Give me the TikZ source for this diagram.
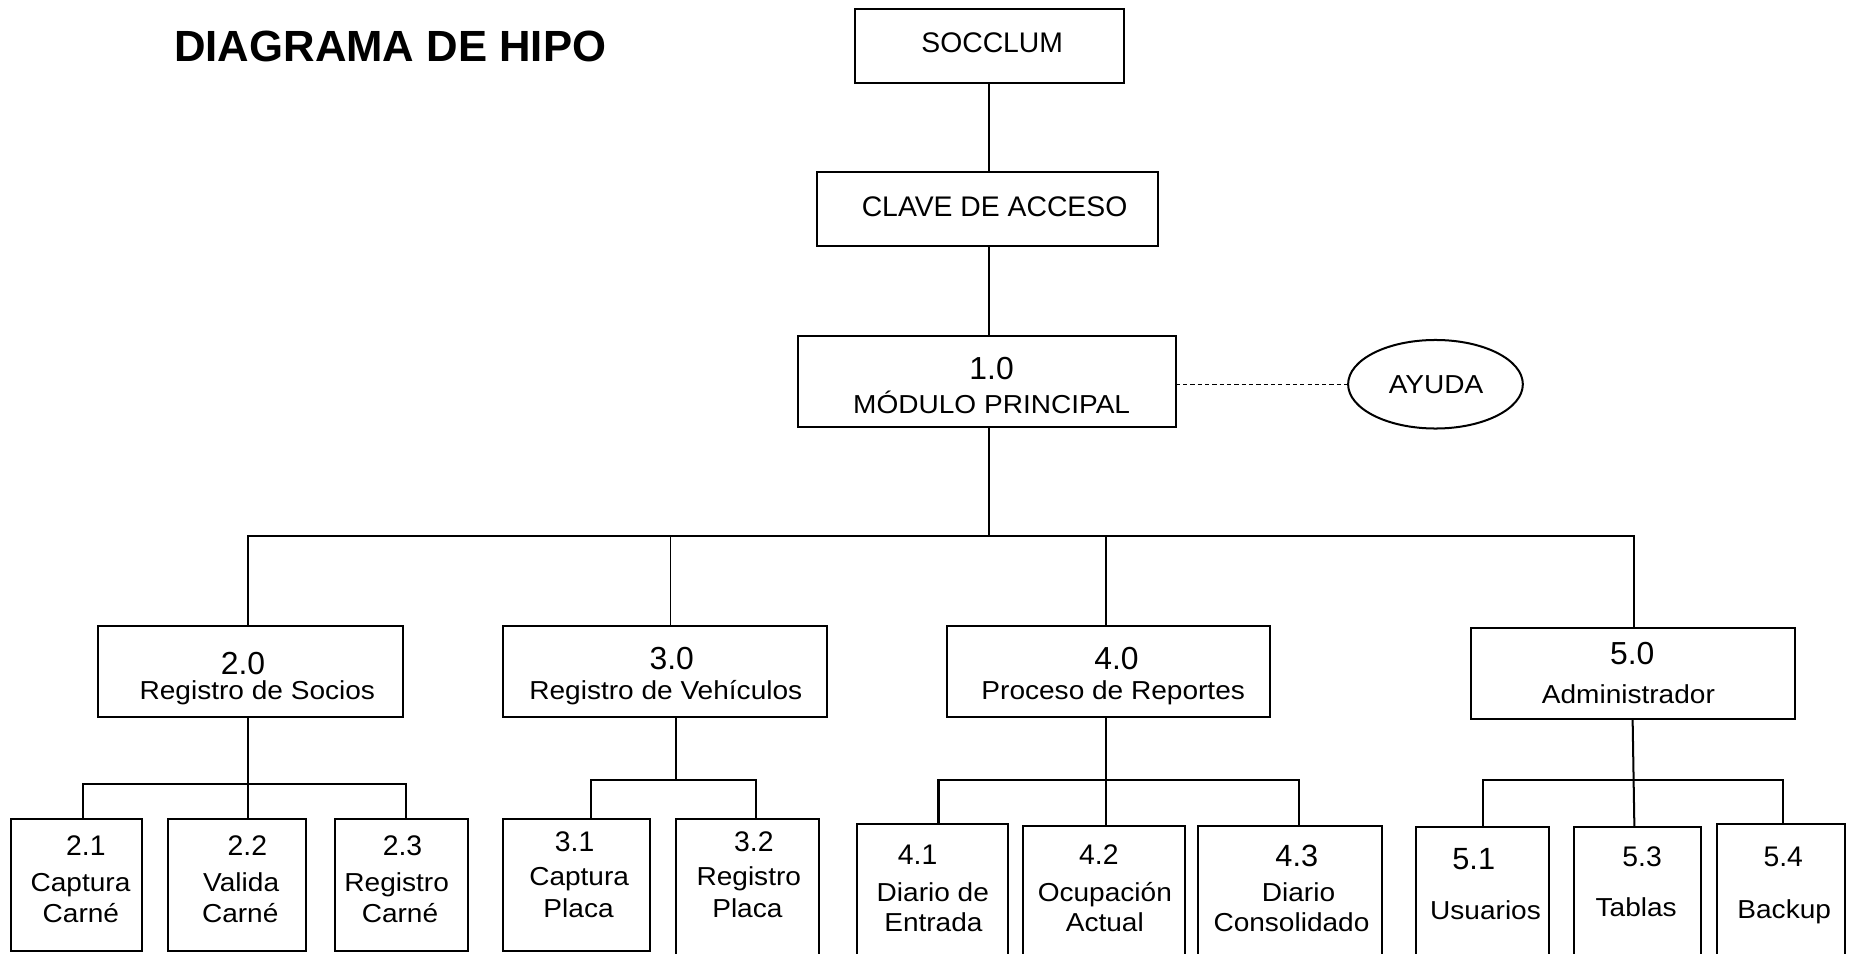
\documentclass[tikz,border=0pt]{standalone}
\usepackage{fontspec}
\setmainfont{Liberation Sans}
\newfontfamily\lblfont[FakeStretch=1.08]{Liberation Sans}
\usetikzlibrary{shapes.geometric}
\newcommand{\mybox}[5]{\node[box,minimum width={(#4-#2)*0.5pt},minimum height={(#5-#3)*0.5pt}] (#1) at ({(#2+#4)/2},{(#3+#5)/2}) {};}
\newcommand{\mytxt}[5]{\node[#1,anchor=base] (#2) at (#3,#4) {#5};}
\begin{document}
\begin{tikzpicture}[x=0.5pt,y=-0.5pt,
  box/.style={draw,line width=0.85pt,inner sep=0pt,outer sep=0pt},
  conn/.style={line width=0.85pt},
  thinline/.style={line width=0.45pt},
  dashline/.style={line width=0.6pt,dash pattern=on 1.8pt off 1.3pt},
  ttl/.style={inner sep=0pt,font=\fontsize{18.5}{22}\selectfont\bfseries},
  top/.style={inner sep=0pt,font=\fontsize{12}{14}\selectfont},
  numl/.style={inner sep=0pt,font=\fontsize{13.5}{16}\selectfont},
  nums/.style={inner sep=0pt,font=\fontsize{12}{14}\selectfont},
  numm/.style={inner sep=0pt,font=\fontsize{13}{15}\selectfont},
  lbl/.style={inner sep=0pt,font=\lblfont\fontsize{11}{13}\selectfont}]
\useasboundingbox (0,0) rectangle (1568,808);
\fill[white] (0,0) rectangle (1568,808);
\clip (0,0) rectangle (1568,808);

% top boxes
\mybox{soc}{724}{8}{952}{70}
\mybox{clave}{692}{146}{981}{208}
\mybox{mod}{676}{284.5}{996}{361.5}
\node[box,ellipse,minimum width=74pt,minimum height=37.5pt] (ayuda) at (1216,325.5) {};

% level 2
\mybox{b2}{83}{530}{341.4}{607}
\mybox{b3}{426}{530}{700.4}{607}
\mybox{b4}{802}{530}{1076.2}{607}
\mybox{b5}{1245.8}{532.3}{1520.5}{609.1}

% level 3
\mybox{s21}{9}{693.5}{120}{806}
\mybox{s22}{142}{693.5}{259}{806}
\mybox{s23}{283.5}{693.5}{396.3}{806}
\mybox{s31}{426}{693.5}{550.7}{806}
\mybox{s32}{572.3}{693.5}{693.8}{830}
\mybox{s41}{726}{698}{854}{830}
\mybox{s42}{866.5}{699.5}{1003.5}{830}
\mybox{s43}{1015}{699.5}{1170.5}{830}
\mybox{s51}{1199.5}{700.8}{1312.4}{830}
\mybox{s53}{1333.3}{700.8}{1440.9}{830}
\mybox{s54}{1454.7}{698}{1562.9}{830}

% coordinates
\coordinate (v0) at (838,0);
\coordinate (j1) at (838,454);
\coordinate (j2) at (210,454);
\coordinate (j3) at (568,454);
\coordinate (j4) at (937,454);
\coordinate (j5) at (1384,454);
\coordinate (k2) at (210,664);
\coordinate (k21) at (70,664);
\coordinate (k23) at (344,664);
\coordinate (k3) at (573,661);
\coordinate (k31) at (501,661);
\coordinate (k32) at (640,661);
\coordinate (k4) at (937,661);
\coordinate (k41) at (795,661);
\coordinate (k43) at (1100.5,661);
\coordinate (k5a) at (1383,0);
\coordinate (k5b) at (1384.5,0);
\coordinate (k51) at (1256,661);
\coordinate (k54) at (1510,661);

% connectors
\draw[conn] (soc.south -| v0) -- (clave.north -| v0);
\draw[conn] (clave.south -| v0) -- (mod.north -| v0);
\draw[conn] (mod.south -| v0) -- (j1);
\draw[dashline] (mod.east |- ayuda.west) -- (ayuda.west);
\draw[conn] (b2.north -| j2) -- (j2) -- (j5) -- (b5.north -| j5);
\draw[thinline] (j3) -- (b3.north -| j3);
\draw[conn] (j4) -- (b4.north -| j4);

\draw[conn] (b2.south -| k2) -- (s22.north -| k2);
\draw[conn] (s21.north -| k21) -- (k21) -- (k23) -- (s23.north -| k23);

\draw[conn] (b3.south -| k3) -- (k3);
\draw[conn] (s31.north -| k31) -- (k31) -- (k32) -- (s32.north -| k32);

\draw[conn] (b4.south -| k4) -- (s42.north -| k4);
\draw[conn] (s41.north -| k41) -- (k41) -- (k43) -- (s43.north -| k43);

\draw[conn] (b5.south -| k5a) -- (s53.north -| k5b);
\draw[conn] (s51.north -| k51) -- (k51) -- (k54) -- (s54.north -| k54);

% texts
\mytxt{ttl}{title}{330.6}{52.2}{DIAGRAMA DE HIPO}
\mytxt{top}{tsoc}{840.5}{44.6}{SOCCLUM}
\mytxt{top}{tclave}{842.5}{183.6}{CLAVE DE ACCESO}
\mytxt{numl}{tmodn}{840}{321.3}{1.0}
\mytxt{lbl}{tmodl}{840}{350}{MÓDULO PRINCIPAL}
\mytxt{lbl}{tayuda}{1216.5}{333}{AYUDA}

\mytxt{numl}{tb2n}{205.8}{571}{2.0}
\mytxt{lbl}{tb2l}{218}{592.4}{Registro de Socios}
\mytxt{numl}{tb3n}{569}{567}{3.0}
\mytxt{lbl}{tb3l}{564}{592.4}{Registro de Vehículos}
\mytxt{numl}{tb4n}{945.8}{567}{4.0}
\mytxt{lbl}{tb4l}{943}{592.4}{Proceso de Reportes}
\mytxt{numl}{tb5n}{1382.7}{562.5}{5.0}
\mytxt{lbl}{tb5l}{1379.4}{595.8}{Administrador}

\mytxt{nums}{t21n}{72.7}{724.3}{2.1}
\mytxt{lbl}{t21a}{68.2}{755}{Captura}
\mytxt{lbl}{t21b}{68.5}{781.5}{Carné}
\mytxt{nums}{t22n}{209.6}{724.3}{2.2}
\mytxt{lbl}{t22a}{204.3}{755}{Valida}
\mytxt{lbl}{t22b}{203.5}{781.5}{Carné}
\mytxt{nums}{t23n}{341}{724.3}{2.3}
\mytxt{lbl}{t23a}{336}{755}{Registro}
\mytxt{lbl}{t23b}{338.8}{781.5}{Carné}

\mytxt{nums}{t31n}{486.8}{721}{3.1}
\mytxt{lbl}{t31a}{490.6}{750.5}{Captura}
\mytxt{lbl}{t31b}{490.1}{777.1}{Placa}
\mytxt{nums}{t32n}{638.6}{721}{3.2}
\mytxt{lbl}{t32a}{634.3}{750.5}{Registro}
\mytxt{lbl}{t32b}{633.1}{777.1}{Placa}

\mytxt{nums}{t41n}{777.3}{732.7}{4.1}
\mytxt{lbl}{t41a}{790.2}{763.8}{Diario de}
\mytxt{lbl}{t41b}{790.7}{789.2}{Entrada}
\mytxt{nums}{t42n}{930.9}{732.7}{4.2}
\mytxt{lbl}{t42a}{935.9}{763.8}{Ocupación}
\mytxt{lbl}{t42b}{935.9}{789.2}{Actual}
\mytxt{numm}{t43n}{1098.5}{734.2}{4.3}
\mytxt{lbl}{t43a}{1100}{763.8}{Diario}
\mytxt{lbl}{t43b}{1094}{789.2}{Consolidado}

\mytxt{numm}{t51n}{1248.4}{736.4}{5.1}
\mytxt{lbl}{t51a}{1258.4}{779.3}{Usuarios}
\mytxt{nums}{t53n}{1391}{733.6}{5.3}
\mytxt{lbl}{t53a}{1386}{776.5}{Tablas}
\mytxt{nums}{t54n}{1510.6}{734.2}{5.4}
\mytxt{lbl}{t54a}{1511.4}{777.9}{Backup}
\end{tikzpicture}
\end{document}
